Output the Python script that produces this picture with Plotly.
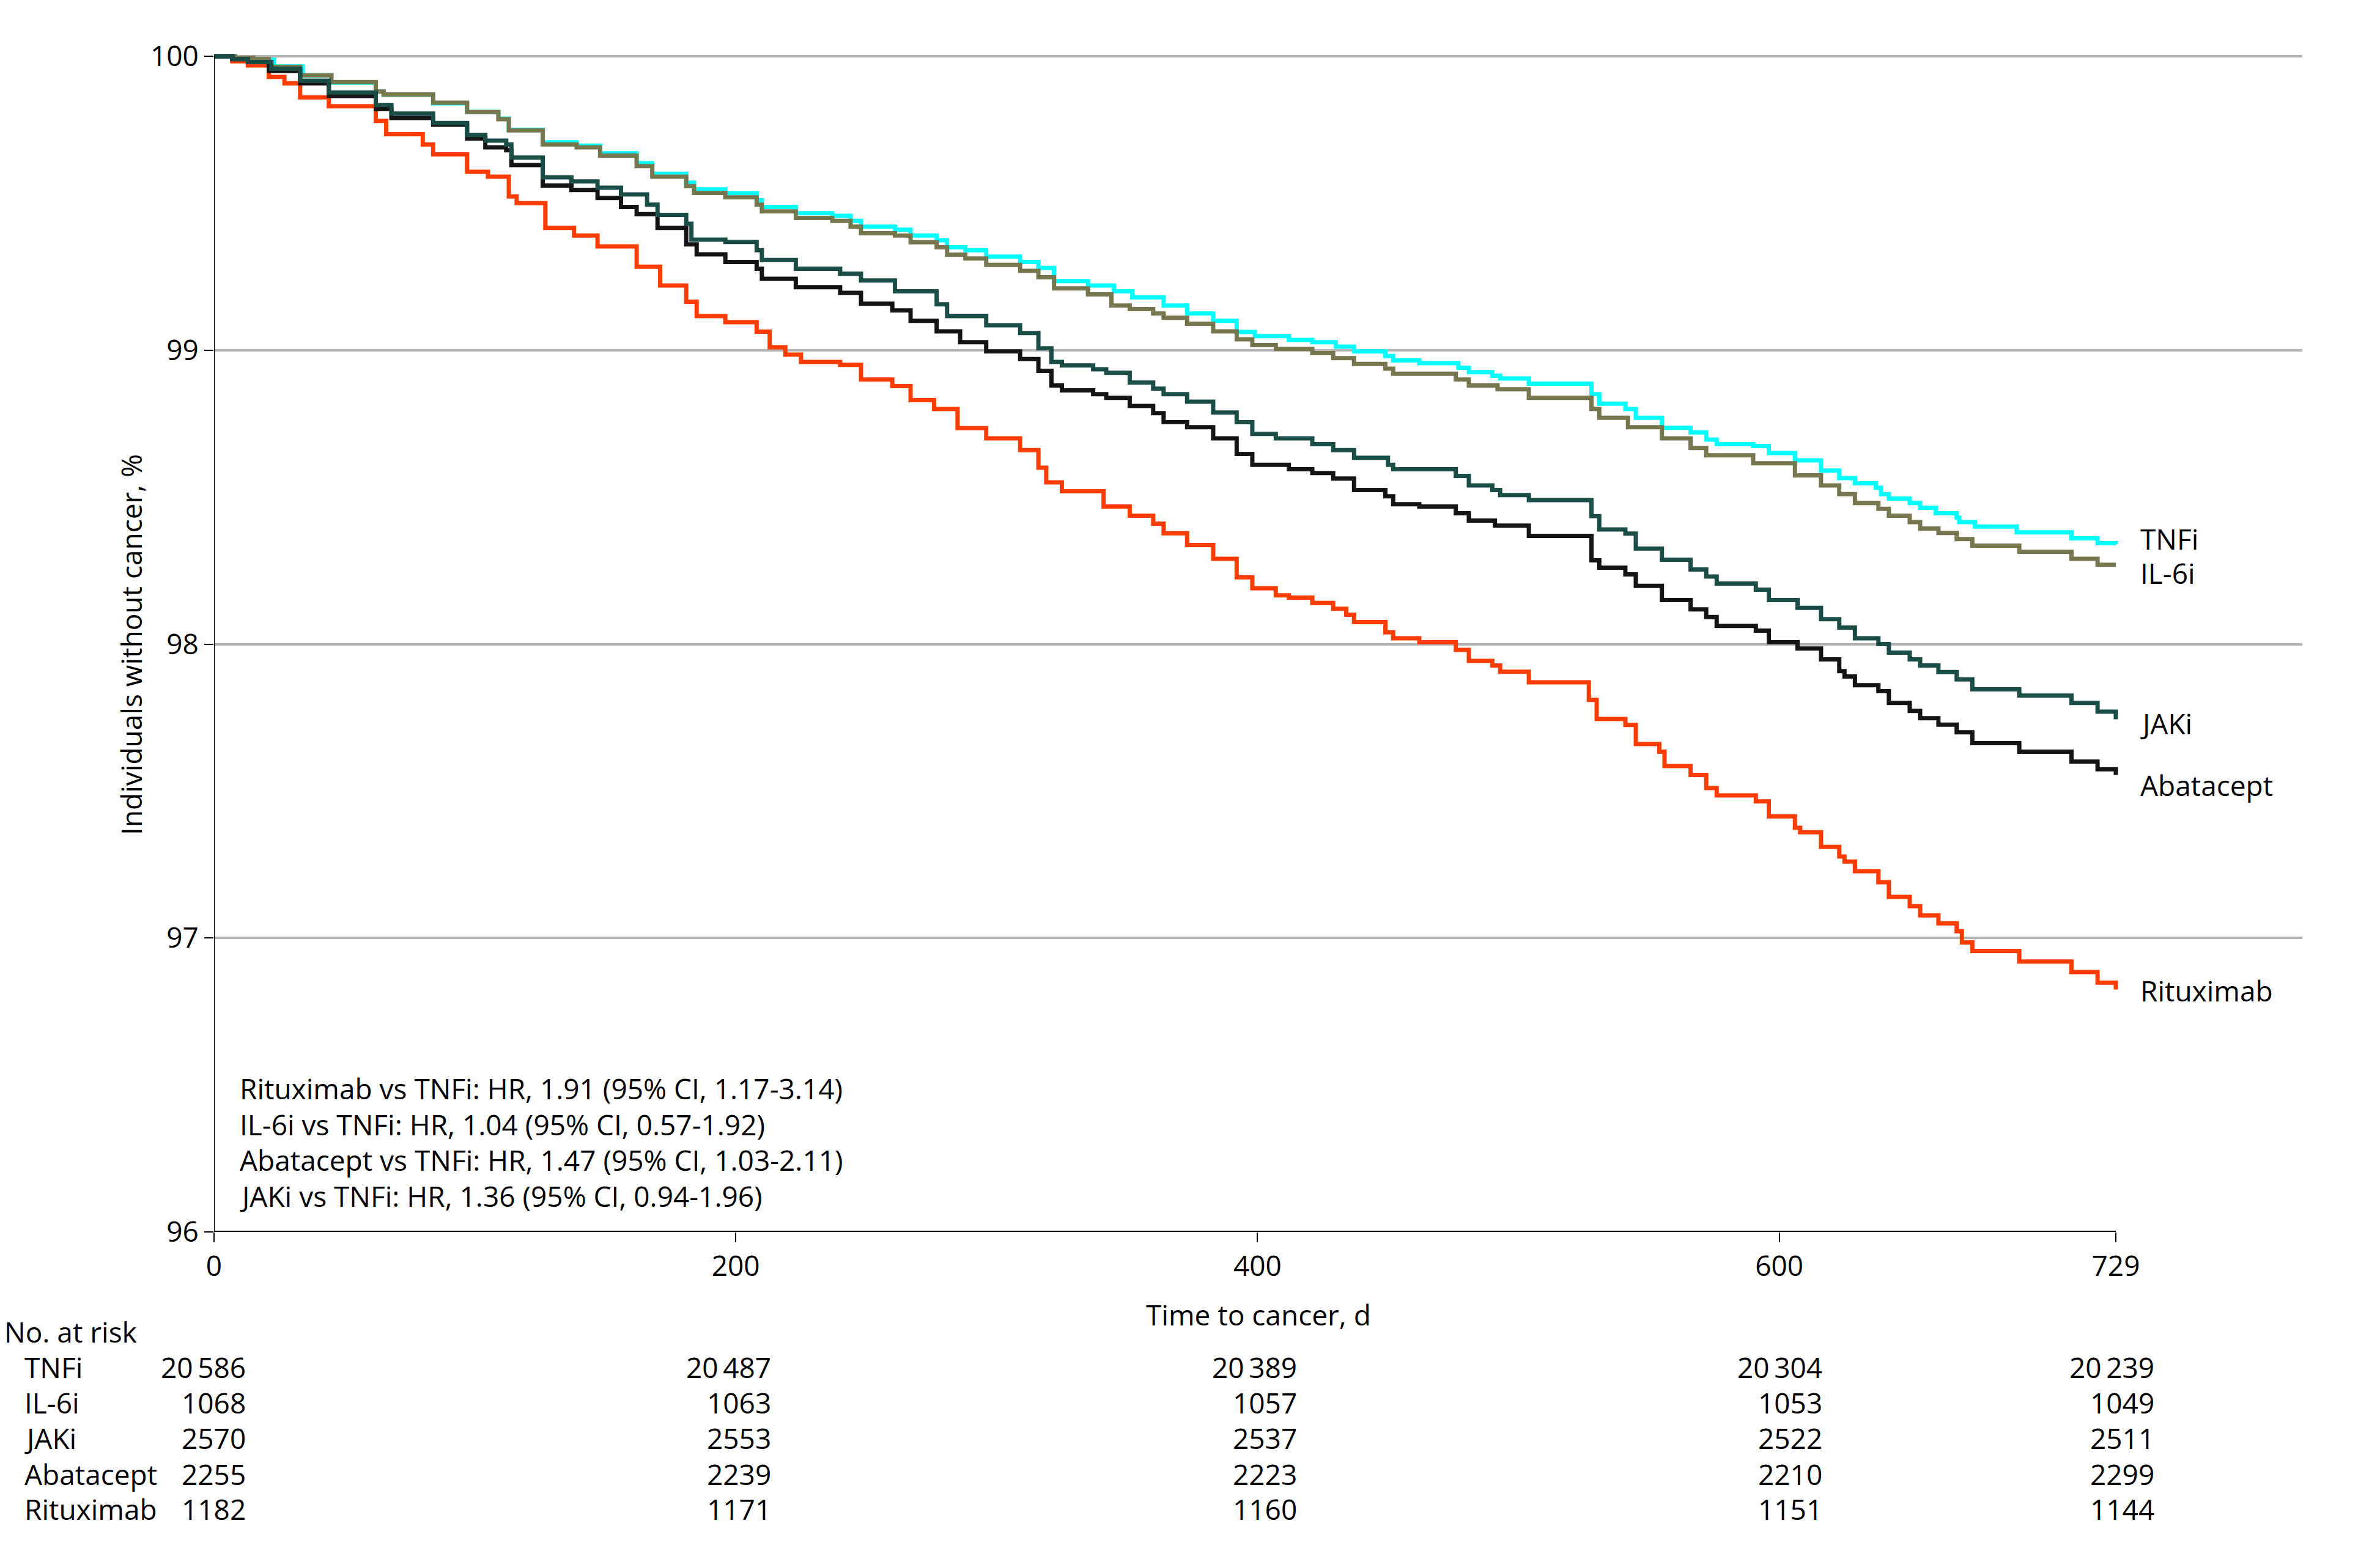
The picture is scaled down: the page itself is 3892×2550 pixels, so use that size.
import plotly.graph_objects as go

# ---------------- data ----------------
tnfi_t = [0, 8, 15, 23, 34, 45, 62, 65, 84, 97, 109, 113, 126, 139, 148, 162, 168, 181, 184, 196,
          208, 210, 223, 237, 244, 248, 261, 267, 277, 281, 288, 296, 309, 316, 322, 335, 345, 352,
          364, 373, 383, 392, 399, 412, 421, 430, 437, 449, 452, 462, 477, 481, 490, 493, 504, 528,
          531, 541, 545, 555, 566, 572, 576, 590, 596, 606, 616, 623, 629, 637, 639, 642, 650, 654,
          660, 668, 669, 675, 691, 712, 722, 729]
tnfi_v = [100, 99.995, 99.988, 99.965, 99.935, 99.91, 99.88, 99.869, 99.84, 99.81, 99.788, 99.75,
          99.707, 99.696, 99.67, 99.636, 99.60, 99.57, 99.547, 99.534, 99.51, 99.487, 99.466, 99.457,
          99.44, 99.42, 99.41, 99.39, 99.374, 99.35, 99.34, 99.318, 99.30, 99.28, 99.235, 99.22,
          99.20, 99.18, 99.152, 99.125, 99.10, 99.062, 99.048, 99.035, 99.027, 99.012, 98.996,
          98.98, 98.965, 98.956, 98.94, 98.925, 98.913, 98.904, 98.886, 98.85, 98.818, 98.80, 98.77,
          98.736, 98.72, 98.696, 98.68, 98.674, 98.65, 98.625, 98.59, 98.565, 98.547, 98.532,
          98.51, 98.495, 98.48, 98.464, 98.445, 98.43, 98.415, 98.40, 98.38, 98.36, 98.343, 98.34]

il6i_t = [0, 8, 15, 21, 33, 45, 62, 65, 84, 97, 109, 113, 126, 139, 148, 162, 168, 181, 184, 196,
          208, 210, 223, 237, 244, 248, 261, 267, 277, 281, 288, 296, 309, 316, 322, 335, 344, 351,
          360, 364, 373, 383, 392, 398, 407, 421, 429, 437, 449, 452, 476, 481, 492, 504, 528, 531,
          542, 555, 566, 572, 590, 606, 616, 623, 629, 638, 642, 650, 654, 661, 668, 674, 692, 712,
          722, 729]
il6i_v = [100, 99.995, 99.99, 99.964, 99.935, 99.912, 99.88, 99.87, 99.842, 99.81, 99.786, 99.748,
          99.70, 99.69, 99.662, 99.626, 99.59, 99.558, 99.535, 99.52, 99.495, 99.472, 99.45, 99.44,
          99.42, 99.398, 99.39, 99.367, 99.35, 99.325, 99.312, 99.29, 99.27, 99.248, 99.21, 99.19,
          99.152, 99.14, 99.125, 99.11, 99.09, 99.064, 99.037, 99.017, 99.004, 98.99, 98.973,
          98.953, 98.937, 98.92, 98.90, 98.88, 98.867, 98.838, 98.80, 98.77, 98.738, 98.70, 98.667,
          98.642, 98.615, 98.574, 98.54, 98.51, 98.48, 98.46, 98.437, 98.415, 98.393, 98.378,
          98.357, 98.335, 98.314, 98.29, 98.27, 98.27]

jaki_t = [0, 7, 13, 22, 33, 44, 62, 68, 84, 97, 104, 112, 114, 126, 137, 147, 156, 166, 170, 181,
          183, 196, 208, 210, 223, 240, 248, 261, 277, 281, 296, 309, 316, 321, 325, 337, 342, 351,
          360, 364, 373, 383, 392, 398, 407, 421, 429, 437, 450, 452, 476, 481, 490, 493, 504, 528,
          531, 541, 545, 555, 566, 572, 576, 591, 596, 607, 616, 623, 629, 638, 642, 650, 654, 661,
          668, 674, 692, 712, 722, 729]
jaki_v = [100, 99.99, 99.98, 99.958, 99.917, 99.877, 99.834, 99.805, 99.773, 99.732, 99.713, 99.70,
          99.655, 99.588, 99.574, 99.553, 99.53, 99.495, 99.46, 99.43, 99.376, 99.368, 99.34,
          99.307, 99.277, 99.26, 99.237, 99.20, 99.156, 99.116, 99.085, 99.058, 99.006, 98.96,
          98.948, 98.935, 98.923, 98.89, 98.869, 98.85, 98.825, 98.788, 98.755, 98.715, 98.70,
          98.68, 98.66, 98.634, 98.61, 98.595, 98.572, 98.54, 98.524, 98.507, 98.49, 98.435, 98.39,
          98.376, 98.325, 98.287, 98.254, 98.23, 98.206, 98.185, 98.15, 98.123, 98.085, 98.056,
          98.02, 98.0, 97.971, 97.948, 97.927, 97.905, 97.88, 97.846, 97.825, 97.80, 97.77, 97.744]

abat_t = [0, 7, 13, 21, 33, 44, 62, 68, 84, 97, 104, 112, 114, 126, 137, 147, 156, 162, 170, 181,
          185, 196, 208, 210, 223, 240, 248, 260, 267, 277, 286, 296, 309, 316, 321, 325, 337, 342,
          351, 360, 364, 373, 383, 392, 398, 412, 421, 429, 437, 449, 452, 462, 476, 481, 491, 504,
          528, 531, 541, 545, 555, 566, 572, 576, 591, 596, 607, 616, 623, 625, 629, 638, 642, 650,
          654, 661, 668, 674, 692, 712, 722, 729]
abat_v = [100, 99.99, 99.98, 99.95, 99.908, 99.865, 99.82, 99.79, 99.767, 99.72, 99.69, 99.68,
          99.63, 99.56, 99.545, 99.518, 99.487, 99.463, 99.416, 99.36, 99.326, 99.30, 99.277,
          99.243, 99.214, 99.195, 99.158, 99.135, 99.10, 99.064, 99.027, 98.996, 98.97, 98.93,
          98.88, 98.863, 98.85, 98.838, 98.81, 98.786, 98.755, 98.738, 98.70, 98.647, 98.61,
          98.595, 98.582, 98.563, 98.524, 98.503, 98.476, 98.468, 98.445, 98.42, 98.403, 98.368,
          98.285, 98.26, 98.237, 98.198, 98.15, 98.118, 98.092, 98.062, 98.046, 98.006, 97.985,
          97.948, 97.908, 97.89, 97.86, 97.84, 97.80, 97.773, 97.748, 97.726, 97.70, 97.663,
          97.634, 97.60, 97.574, 97.555]

ritu_t = [0, 7, 13, 21, 27, 33, 44, 62, 66, 80, 84, 97, 105, 113, 116, 127, 138, 147, 162, 171,
          181, 185, 196, 208, 213, 219, 225, 240, 248, 260, 267, 276, 285, 296, 309, 316, 319, 325,
          341, 351, 360, 364, 373, 383, 392, 398, 407, 412, 421, 429, 434, 437, 449, 452, 462, 476,
          481, 490, 493, 504, 527, 530, 541, 545, 554, 556, 566, 572, 576, 591, 596, 606, 608, 616,
          623, 625, 629, 638, 642, 650, 654, 661, 668, 670, 674, 692, 712, 722, 729]
ritu_v = [100, 99.983, 99.969, 99.93, 99.908, 99.86, 99.83, 99.78, 99.735, 99.70, 99.666, 99.607,
          99.59, 99.523, 99.50, 99.416, 99.39, 99.353, 99.284, 99.22, 99.165, 99.116, 99.095,
          99.063, 99.01, 98.985, 98.96, 98.95, 98.90, 98.878, 98.83, 98.80, 98.735, 98.70, 98.66,
          98.60, 98.55, 98.52, 98.468, 98.437, 98.41, 98.377, 98.337, 98.29, 98.227, 98.19,
          98.166, 98.158, 98.14, 98.12, 98.10, 98.075, 98.04, 98.02, 98.006, 97.98, 97.943,
          97.927, 97.906, 97.87, 97.81, 97.745, 97.725, 97.66, 97.634, 97.585, 97.555, 97.51,
          97.485, 97.465, 97.414, 97.375, 97.36, 97.31, 97.277, 97.26, 97.227, 97.19, 97.14,
          97.108, 97.077, 97.05, 97.023, 96.985, 96.956, 96.92, 96.884, 96.848, 96.825]

groups = ["TNFi", "IL-6i", "JAKi", "Abatacept", "Rituximab"]
risk_times = [0, 200, 400, 600, 729]
risk_tnfi = [20586, 20487, 20389, 20304, 20239]
risk_il6i = [1068, 1063, 1057, 1053, 1049]
risk_jaki = [2570, 2553, 2537, 2522, 2511]
risk_abat = [2255, 2239, 2223, 2210, 2299]
risk_ritu = [1182, 1171, 1160, 1151, 1144]

hr_lines = [
    "Rituximab vs TNFi: HR, 1.91 (95% CI, 1.17-3.14)",
    "IL-6i vs TNFi: HR, 1.04 (95% CI, 0.57-1.92)",
    "Abatacept vs TNFi: HR, 1.47 (95% CI, 1.03-2.11)",
    "JAKi vs TNFi: HR, 1.36 (95% CI, 0.94-1.96)",
]
x_ticks = [0, 200, 400, 600, 729]
y_ticks = [96, 97, 98, 99, 100]

# ---------------- styles ----------------
PAGE_PAD = 8                      # default body margin of the html page
W, H = 3892 - 2 * PAGE_PAD, 2550 - 2 * PAGE_PAD
PLOT_X0, PLOT_X1 = 350, 3765      # plot area in screen pixels
PLOT_Y0, PLOT_Y1 = 87, 2015
ML = PLOT_X0 - PAGE_PAD
MT = PLOT_Y0 - PAGE_PAD
MR = W - ML - (PLOT_X1 - PLOT_X0)
MB = H - MT - (PLOT_Y1 - PLOT_Y0)
FONT = "Open Sans, Noto Sans, Liberation Sans, sans-serif"
FS = 46
colors = {"TNFi": "#00FFFF", "IL-6i": "#77774F", "JAKi": "#1B4D47",
          "Abatacept": "#141414", "Rituximab": "#FF3C00"}
series = {"TNFi": (tnfi_t, tnfi_v), "IL-6i": (il6i_t, il6i_v), "JAKi": (jaki_t, jaki_v),
          "Abatacept": (abat_t, abat_v), "Rituximab": (ritu_t, ritu_v)}
risk = {"TNFi": risk_tnfi, "IL-6i": risk_il6i, "JAKi": risk_jaki,
        "Abatacept": risk_abat, "Rituximab": risk_ritu}
draw_order = ["Rituximab", "TNFi", "IL-6i", "Abatacept", "JAKi"]

plot_w = PLOT_X1 - PLOT_X0
plot_h = PLOT_Y1 - PLOT_Y0


def pxx(X):
    return (X - PLOT_X0) / plot_w


def pxy(Y):
    return (PLOT_Y1 - Y) / plot_h


fig = go.Figure()
for g in draw_order:
    t, v = series[g]
    fig.add_trace(go.Scatter(x=t, y=v, mode="lines", name=g,
                             line=dict(shape="hv", color=colors[g], width=7),
                             showlegend=False, hoverinfo="skip"))

tf = dict(size=FS, color="black", family=FONT)
annotations = []
for i, s in enumerate(hr_lines):
    annotations.append(dict(text=s, xref="paper", yref="paper", x=pxx(390), y=pxy(1780 + 58.7 * i),
                            xanchor="left", yanchor="middle", showarrow=False, font=tf))
label_y = {"TNFi": 881, "IL-6i": 937, "JAKi": 1183, "Abatacept": 1284, "Rituximab": 1620}
for g in groups:
    annotations.append(dict(text=g, xref="x", yref="paper", x=x_ticks[-1], xshift=38,
                            y=pxy(label_y[g]), xanchor="left", yanchor="middle", showarrow=False,
                            font=tf))
annotations.append(dict(text="Individuals without cancer, %", xref="paper", yref="paper",
                        x=pxx(214), y=pxy(1055), textangle=-90, xanchor="center", yanchor="middle",
                        showarrow=False, font=tf))
annotations.append(dict(text="Time to cancer, d", xref="paper", yref="paper",
                        x=pxx(2058), y=pxy(2150), xanchor="center", yanchor="middle",
                        showarrow=False, font=tf))
annotations.append(dict(text="No. at risk", xref="paper", yref="paper", x=pxx(5), y=pxy(2178),
                        xanchor="left", yanchor="middle", showarrow=False, font=tf))
row_y = [2236, 2294, 2352, 2411, 2468]
col_shift = [54, 60, 67, 72, 65]


def fmt(n):
    return f"{n:,}".replace(",", "\u2009") if n >= 10000 else str(n)


for r, g in enumerate(groups):
    annotations.append(dict(text=g, xref="paper", yref="paper", x=pxx(38), y=pxy(row_y[r]),
                            xanchor="left", yanchor="middle", showarrow=False, font=tf))
    for c, tt in enumerate(risk_times):
        annotations.append(dict(text=fmt(risk[g][c]), xref="x", yref="paper", x=tt,
                                xshift=col_shift[c], y=pxy(row_y[r]), xanchor="right",
                                yanchor="middle", showarrow=False, font=tf))

shapes = [
    dict(type="line", xref="x", yref="y", x0=0, x1=x_ticks[-1], y0=96, y1=96,
         line=dict(color="black", width=4), layer="above"),
    dict(type="line", xref="x", yref="y", x0=0, x1=0, y0=96, y1=100,
         line=dict(color="black", width=2.5), layer="above"),
]

fig.update_layout(
    width=W, height=H,
    margin=dict(l=ML, r=MR, t=MT, b=MB, pad=0),
    paper_bgcolor="white", plot_bgcolor="white",
    font=dict(family=FONT, size=FS, color="black"),
    xaxis=dict(range=[0, 800.5], tickvals=x_ticks, ticktext=[str(v) for v in x_ticks],
               showgrid=False, zeroline=False, showline=False, ticks="outside", ticklen=16,
               tickwidth=2, tickcolor="black", tickfont=dict(size=FS, family=FONT)),
    yaxis=dict(range=[96, 100.0104], tickvals=y_ticks, ticktext=[str(v) for v in y_ticks],
               showgrid=True, gridcolor="#B3B3B3", gridwidth=3.5, zeroline=False,
               showline=False, ticks="outside", ticklen=15, tickwidth=2, tickcolor="black",
               tickfont=dict(size=FS, family=FONT)),
    annotations=annotations,
    shapes=shapes,
)

fig.write_html("out.html")
